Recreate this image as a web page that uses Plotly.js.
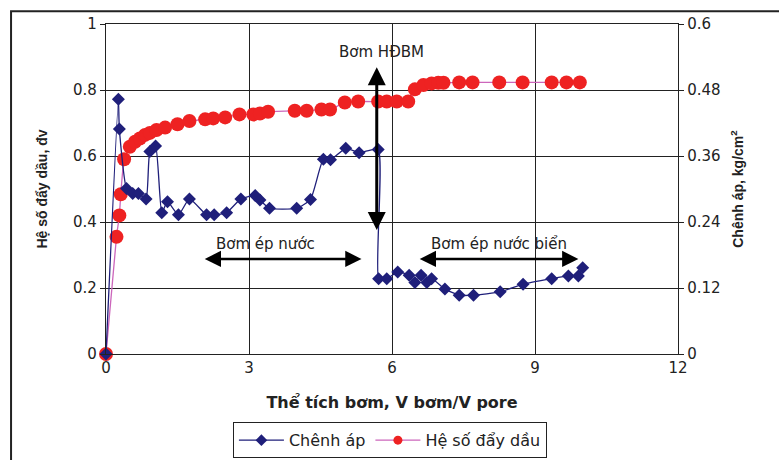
<!DOCTYPE html>
<html>
<head>
<meta charset="utf-8">
<script src="https://cdn.plot.ly/plotly-3.0.1.min.js"></script>
<style>html,body{margin:0;padding:0;background:#fff}#chart{width:779px;height:460px}</style>
</head>
<body>
<div id="chart"></div>
<script>
// Hệ số đẩy dầu (left axis)
const oilX = [0, 0.22, 0.28, 0.31, 0.38, 0.5, 0.61, 0.71, 0.82, 0.92, 1.06, 1.24, 1.5, 1.75, 2.08, 2.25, 2.5, 2.8, 3.09, 3.23, 3.4, 3.96, 4.21, 4.52, 4.7, 5.01, 5.29, 5.71, 5.89, 6.1, 6.34, 6.48, 6.66, 6.83, 6.97, 7.08, 7.41, 7.69, 8.25, 8.74, 9.35, 9.66, 9.94];
const oilY = [0, 0.355, 0.42, 0.484, 0.59, 0.628, 0.643, 0.653, 0.664, 0.67, 0.679, 0.686, 0.696, 0.706, 0.711, 0.714, 0.717, 0.726, 0.726, 0.729, 0.734, 0.737, 0.737, 0.741, 0.741, 0.762, 0.765, 0.765, 0.765, 0.765, 0.765, 0.802, 0.815, 0.82, 0.822, 0.822, 0.823, 0.823, 0.823, 0.823, 0.823, 0.823, 0.823];
// Chênh áp (right axis, kg/cm2)
const dpX = [0, 0.26, 0.28, 0.43, 0.56, 0.68, 0.84, 0.92, 1.04, 1.17, 1.29, 1.52, 1.75, 2.11, 2.27, 2.53, 2.83, 3.13, 3.23, 3.43, 4.0, 4.29, 4.56, 4.71, 5.03, 5.31, 5.71, 5.72, 5.89, 6.12, 6.36, 6.48, 6.61, 6.73, 6.83, 7.11, 7.41, 7.71, 8.27, 8.75, 9.35, 9.7, 9.91, 10.0];
const dpY = [0, 0.463, 0.409, 0.301, 0.292, 0.292, 0.282, 0.368, 0.378, 0.257, 0.277, 0.253, 0.282, 0.253, 0.253, 0.257, 0.282, 0.288, 0.280, 0.265, 0.265, 0.281, 0.354, 0.353, 0.374, 0.366, 0.372, 0.137, 0.137, 0.149, 0.143, 0.130, 0.143, 0.130, 0.137, 0.118, 0.107, 0.107, 0.113, 0.127, 0.137, 0.142, 0.142, 0.157];

const xTicks = [0, 3, 6, 9, 12];
const yLeftTicks = [0, 0.2, 0.4, 0.6, 0.8, 1];
const yRightTicks = [0, 0.12, 0.24, 0.36, 0.48, 0.6];

const FONT = 'DejaVu Sans';
const BLUE = '#1f1f7a', PINK = '#cc66bb', RED = '#ee2222';
const traces = [
  {
    x: dpX, y: dpY, yaxis: 'y2', name: 'Chênh áp', type: 'scatter', mode: 'lines+markers',
    showlegend: false, cliponaxis: false,
    line: {color: BLUE, width: 1.3, shape: 'spline', smoothing: 0.5},
    marker: {symbol: 'diamond', size: 10, color: BLUE}
  },
  {
    x: oilX, y: oilY, name: 'Hệ số đẩy dầu', type: 'scatter', mode: 'lines+markers',
    showlegend: false, cliponaxis: false,
    line: {color: PINK, width: 1.3, shape: 'spline', smoothing: 0.5},
    marker: {symbol: 'circle', size: 14, color: RED}
  },
  // legend entries (small symbols as in the reference legend)
  {x: [null], y: [null], name: 'Chênh áp', type: 'scatter', mode: 'lines+markers',
   line: {color: BLUE, width: 1.3}, marker: {symbol: 'diamond', size: 9, color: BLUE}},
  {x: [null], y: [null], name: 'Hệ số đẩy dầu', type: 'scatter', mode: 'lines+markers',
   line: {color: PINK, width: 1.3}, marker: {symbol: 'circle', size: 9, color: RED}}
];

const layout = {
  width: 779, height: 460,
  margin: {l: 106, r: 101, t: 24, b: 106},
  paper_bgcolor: '#fff', plot_bgcolor: '#fff',
  font: {family: FONT, size: 15, color: '#222'},
  showlegend: true,
  legend: {
    orientation: 'h', xref: 'container', yref: 'container',
    x: 0.299, y: 0.082, xanchor: 'left', yanchor: 'top',
    bordercolor: '#222', borderwidth: 1, bgcolor: '#fff',
    font: {family: FONT, size: 16, color: '#222'},
    itemwidth: 45, tracegroupgap: 0
  },
  xaxis: {
    range: [0, 12], tickvals: xTicks, ticktext: xTicks.map(String), automargin: false,
    showgrid: true, gridcolor: '#222', gridwidth: 1,
    showline: true, linecolor: '#222', linewidth: 1.2, mirror: true,
    ticks: '', zeroline: false,
    tickfont: {family: FONT, size: 15, color: '#222'},
    title: {text: 'Thể tích bơm, V bơm/V pore', standoff: 20,
            font: {family: FONT, size: 16, color: '#222', weight: 'bold'}}
  },
  yaxis: {
    range: [0, 1], tickvals: yLeftTicks, ticktext: yLeftTicks.map(String), automargin: false,
    showgrid: true, gridcolor: '#222', gridwidth: 1,
    showline: true, linecolor: '#222', linewidth: 1.2,
    ticks: 'outside', ticklen: 5, tickcolor: '#222', zeroline: false,
    tickfont: {family: FONT, size: 15, color: '#222'},
    title: {text: 'Hệ số đẩy dầu, đv', standoff: 22,
            font: {family: 'Liberation Sans', size: 14, color: '#222', weight: 'bold'}}
  },
  yaxis2: {
    range: [0, 0.6], tickvals: yRightTicks, ticktext: yRightTicks.map(String), automargin: false,
    overlaying: 'y', side: 'right', showgrid: false,
    showline: true, linecolor: '#222', linewidth: 1.2,
    ticks: 'outside', ticklen: 5, tickcolor: '#222', zeroline: false,
    tickfont: {family: FONT, size: 15, color: '#222'},
    title: {text: 'Chênh áp, kg/cm<sup>2</sup>', standoff: 13,
            font: {family: 'Liberation Sans', size: 14, color: '#222', weight: 'bold'}}
  },
  shapes: [
    {type: 'rect', xref: 'paper', yref: 'paper', x0: -0.166, x1: 1.4, y0: -0.6, y1: 1.039,
     line: {color: '#222', width: 2}, fillcolor: 'rgba(0,0,0,0)', layer: 'below'}
  ],
  annotations: [
    {x: 5.68, y: 0.869, ax: 5.68, ay: 0.371, axref: 'x', ayref: 'y', xref: 'x', yref: 'y',
     text: '', showarrow: true, arrowside: 'end+start', arrowhead: 2, arrowsize: 1.2, arrowwidth: 3, arrowcolor: '#000', standoff: 0, startstandoff: 0},
    {x: 5.36, y: 0.288, ax: 2.04, ay: 0.288, axref: 'x', ayref: 'y', xref: 'x', yref: 'y',
     text: '', showarrow: true, arrowside: 'end+start', arrowhead: 2, arrowsize: 1.3, arrowwidth: 2.5, arrowcolor: '#000', standoff: 0, startstandoff: 0},
    {x: 9.91, y: 0.288, ax: 6.55, ay: 0.288, axref: 'x', ayref: 'y', xref: 'x', yref: 'y',
     text: '', showarrow: true, arrowside: 'end+start', arrowhead: 2, arrowsize: 1.3, arrowwidth: 2.5, arrowcolor: '#000', standoff: 0, startstandoff: 0},
    {x: 5.77, y: 0.916, xref: 'x', yref: 'y', text: 'Bơm HĐBM', showarrow: false,
     font: {family: FONT, size: 15, color: '#222'}},
    {x: 3.34, y: 0.333, xref: 'x', yref: 'y', text: 'Bơm ép nước', showarrow: false,
     font: {family: FONT, size: 15, color: '#222'}},
    {x: 8.24, y: 0.333, xref: 'x', yref: 'y', text: 'Bơm ép nước biển', showarrow: false,
     font: {family: FONT, size: 15, color: '#222'}}
  ]
};

Plotly.newPlot('chart', traces, layout, {displayModeBar: false, staticPlot: true});
</script>
</body>
</html>
